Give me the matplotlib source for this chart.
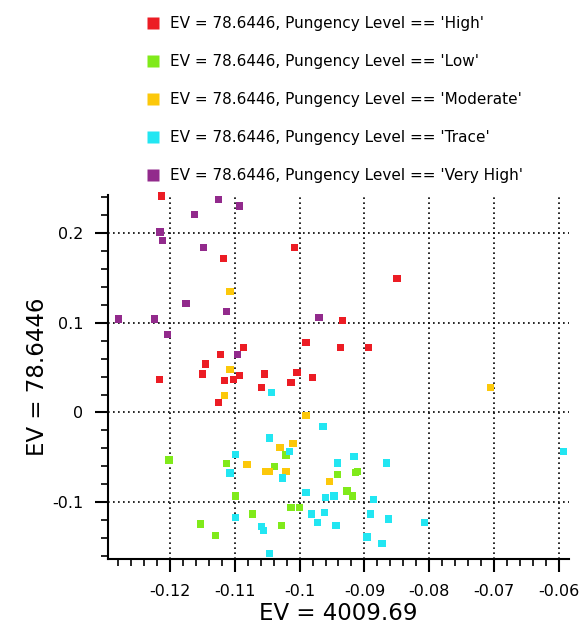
import matplotlib
matplotlib.use('Agg')
import matplotlib.pyplot as plt
from matplotlib.lines import Line2D
from matplotlib.ticker import MultipleLocator, FuncFormatter

plt.rcParams['font.family'] = ['DejaVu Sans']
plt.rcParams['axes.unicode_minus'] = False

# pungency levels and their colours
levels = ['High', 'Low', 'Moderate', 'Trace', 'Very High']
colors = ['#ec1c24', '#80ea1a', '#fcc80a', '#22e6f2', '#922a8c']

# EV = 4009.69 (x) / EV = 78.6446 (y) scores per level
high_x = [-0.1213, -0.1008, -0.1117, -0.0850, -0.0934, -0.0990, -0.1086, -0.0937,
          -0.0894, -0.1122, -0.1145, -0.1150, -0.1054, -0.1004, -0.0980, -0.1092,
          -0.1102, -0.1115, -0.1216, -0.1013, -0.1058, -0.1125]
high_y = [0.241, 0.184, 0.171, 0.149, 0.102, 0.0775, 0.072, 0.072,
          0.072, 0.0646, 0.054, 0.0427, 0.0427, 0.0445, 0.039, 0.0408,
          0.0371, 0.0352, 0.0371, 0.0334, 0.0282, 0.0115]

low_x = [-0.1201, -0.1112, -0.1021, -0.1038, -0.1099, -0.1013, -0.1000, -0.1073,
         -0.1152, -0.1028, -0.1129, -0.0942, -0.0914, -0.0911, -0.0927, -0.0919]
low_y = [-0.0528, -0.0565, -0.0472, -0.0598, -0.0929, -0.1058, -0.1058, -0.1129,
         -0.1241, -0.1258, -0.1366, -0.069, -0.0665, -0.0659, -0.0874, -0.0929]

moderate_x = [-0.1107, -0.1107, -0.1115, -0.0990, -0.0706, -0.1030, -0.1010,
              -0.1081, -0.1053, -0.1046, -0.1021, -0.0954]
moderate_y = [0.1347, 0.048, 0.019, -0.0033, 0.0278, -0.0394, -0.0342,
              -0.0579, -0.0654, -0.0654, -0.0654, -0.0765]

trace_x = [-0.1043, -0.0964, -0.1046, -0.1015, -0.1099, -0.1107, -0.1026, -0.0942,
           -0.0916, -0.0866, -0.0594, -0.0990, -0.0960, -0.0947, -0.0886, -0.0982,
           -0.0962, -0.0972, -0.0944, -0.1099, -0.1059, -0.1056, -0.1046, -0.0891,
           -0.0863, -0.0807, -0.0896, -0.0873]
trace_y = [0.0226, -0.016, -0.0284, -0.0431, -0.047, -0.0673, -0.0728, -0.0562,
           -0.0487, -0.0562, -0.0434, -0.0894, -0.0943, -0.0929, -0.0965, -0.1129,
           -0.111, -0.1222, -0.1258, -0.1166, -0.1269, -0.1311, -0.1569, -0.1129,
           -0.1185, -0.1222, -0.1386, -0.1461]

very_high_x = [-0.1125, -0.1092, -0.1162, -0.1215, -0.1211, -0.1148, -0.1175,
               -0.1112, -0.1279, -0.1223, -0.0970, -0.1203, -0.1095]
very_high_y = [0.237, 0.2297, 0.2205, 0.2008, 0.191, 0.184, 0.1217,
               0.1128, 0.104, 0.104, 0.1053, 0.0864, 0.0646]

xs = [high_x, low_x, moderate_x, trace_x, very_high_x]
ys = [high_y, low_y, moderate_y, trace_y, very_high_y]

fig = plt.figure(figsize=(5.87, 6.27), dpi=100)
ax = fig.add_axes([0.184, 0.1085, 0.7853, 0.5805])

for x, y, c in zip(xs, ys, colors):
    ax.scatter(x, y, marker='s', s=27, color=c, edgecolors='none', zorder=3, clip_on=False)

ax.set_xlim(-0.1295, -0.0585)
ax.set_ylim(-0.163, 0.242)

# ticks: major every 0.01 / 0.1, minor in between
ax.xaxis.set_major_locator(MultipleLocator(0.01))
ax.xaxis.set_minor_locator(MultipleLocator(0.002))
ax.yaxis.set_major_locator(MultipleLocator(0.1))
ax.yaxis.set_minor_locator(MultipleLocator(0.02))
fmt = FuncFormatter(lambda v, p: '%g' % (round(v, 6) + 0.0))
ax.xaxis.set_major_formatter(fmt)
ax.yaxis.set_major_formatter(fmt)
ax.tick_params(which='major', direction='out', length=9.5, width=1.5, labelsize=11.5, pad=8.5)
ax.tick_params(which='minor', direction='out', length=5, width=1.2)

for side in ['top', 'right']:
    ax.spines[side].set_visible(False)
for side in ['left', 'bottom']:
    ax.spines[side].set_linewidth(1.5)

ax.grid(True, which='major', color='black', linestyle=(0, (1, 2)), linewidth=1.2)

ax.set_xlabel('EV = 4009.69', fontsize=16.5, labelpad=2)
ax.set_ylabel('EV = 78.6446', fontsize=16.5, labelpad=2)

handles = [Line2D([], [], marker='s', linestyle='none', color=c, markersize=8,
                  markeredgecolor='none') for c in colors]
labels = ["EV = 78.6446, Pungency Level == '%s'" % l for l in levels]
fig.legend(handles, labels, loc='upper left', bbox_to_anchor=(0.251, 0.974),
           frameon=False, fontsize=11, borderpad=0, borderaxespad=0,
           handlelength=0.75, handletextpad=0.72, labelspacing=1.5)

plt.savefig('out.png', dpi=100)
plt.close()
